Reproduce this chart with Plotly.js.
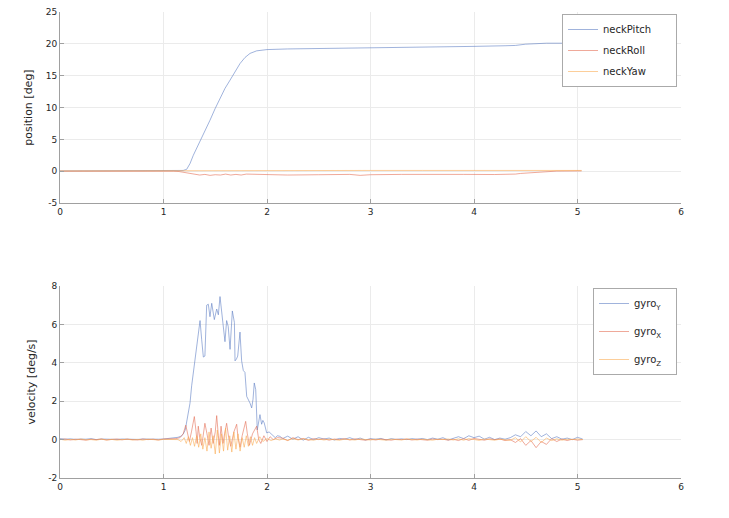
<!DOCTYPE html>
<html>
<head>
<meta charset="utf-8">
<script src="https://cdn.plot.ly/plotly-3.0.1.min.js"></script>
<style>html,body{margin:0;padding:0;background:#fff;}#chart{width:729px;height:518px;}</style>
</head>
<body>
<div id="chart"></div>
<script>
// ---- top panel: position ----
var tPitch = [0,0.2,0.4,0.6,0.8,1.0,1.1,1.15,1.19,1.224,1.256,1.288,1.32,1.353,1.40,1.449,1.498,1.546,1.594,1.643,1.691,1.739,1.787,1.836,1.9,2.0,2.2,2.5,2.8,3.1,3.5,3.8,4.0,4.3,4.4,4.5,4.6,4.7,4.85,5.04];
var neckPitch = [0.05,0.05,0.1,0.05,0.1,0.05,0.05,0.08,0.12,0.3,1.2,2.5,3.55,4.75,6.4,8.0,9.8,11.4,13.0,14.3,15.6,16.9,17.85,18.5,18.9,19.1,19.2,19.25,19.35,19.4,19.45,19.5,19.6,19.7,19.75,19.95,20.05,20.1,20.1,20.15];

var tRoll = [0,0.2,0.4,0.6,0.8,1.0,1.1,1.15,1.2,1.25,1.3,1.35,1.4,1.45,1.5,1.55,1.6,1.65,1.7,1.75,1.8,1.9,2.0,2.2,2.5,2.8,2.9,3.0,3.3,3.6,3.9,4.2,4.35,4.4,4.45,4.5,4.55,4.6,4.65,4.7,4.8,5.04];
var neckRoll = [0.0,0.02,0.0,0.03,0.0,0.02,0.0,-0.05,-0.2,-0.4,-0.55,-0.6,-0.5,-0.65,-0.55,-0.6,-0.45,-0.6,-0.5,-0.6,-0.45,-0.5,-0.5,-0.6,-0.55,-0.5,-0.65,-0.55,-0.5,-0.55,-0.5,-0.52,-0.5,-0.45,-0.35,-0.3,-0.2,-0.15,-0.05,0.0,0.02,0.05];

var tYaw = [0,0.5,1.0,1.5,2.0,2.5,3.0,3.5,4.0,4.5,5.04];
var neckYaw = [0.05,0.08,0.1,0.12,0.12,0.12,0.12,0.12,0.12,0.12,0.12];

// ---- bottom panel: velocity ----
var tQuietA = [0,0.05,0.1,0.15,0.2,0.25,0.3,0.35,0.4,0.45,0.5,0.55,0.6,0.65,0.7,0.75,0.8,0.85,0.9,0.95,1.0,1.05];
var tQuietB = [2.15,2.2,2.25,2.3,2.35,2.4,2.45,2.5,2.55,2.6,2.65,2.7,2.75,2.8,2.85,2.9,2.95,3.0,3.05,3.1,3.15,3.2,3.25,3.3,3.35,3.4,3.45,3.5,3.55,3.6,3.65,3.7,3.75,3.8,3.85,3.9,3.95,4.0,4.05,4.1,4.15,4.2,4.25,4.3,4.35,4.4,4.45,4.5,4.55,4.6,4.65,4.7,4.75,4.8,4.85,4.9,4.95,5.0,5.05];

var gyroY_A = [0.05,0.02,0.04,0.01,0.03,0.02,0.05,0.0,0.03,0.02,0.04,0.01,0.03,0.02,0.04,0.01,0.03,0.02,0.04,0.02,0.03,0.06];
var tGyroY = [1.08,1.11,1.14,1.17,1.19,1.21,1.224,1.24,1.256,1.272,1.288,1.304,1.32,1.336,1.353,1.369,1.385,1.40,1.417,1.433,1.449,1.466,1.491,1.514,1.53,1.546,1.562,1.578,1.594,1.61,1.625,1.643,1.665,1.685,1.691,1.705,1.717,1.739,1.755,1.771,1.787,1.804,1.82,1.836,1.852,1.865,1.877,1.891,1.906,1.92,1.932,1.948,1.96,1.973,1.997,2.02,2.045,2.08,2.1,2.125];
var gyroY_act = [0.06,0.1,0.12,0.18,0.28,0.5,0.9,1.4,1.9,2.8,3.5,4.1,4.8,5.4,6.2,5.2,4.3,4.35,7.0,7.05,6.4,7.1,6.25,6.8,6.5,7.45,6.6,6.1,5.1,6.2,5.9,4.7,6.7,6.1,4.1,4.2,4.35,5.6,4.1,3.6,3.5,2.25,2.1,1.9,1.65,2.1,2.95,2.6,0.5,1.0,1.3,0.8,1.0,0.87,0.35,0.4,0.26,0.1,0.2,0.17];
var gyroY_B = [0.05,0.18,0.02,0.15,-0.03,0.12,0.0,0.1,0.03,0.08,-0.02,0.06,0.02,0.1,0.0,0.08,-0.02,0.05,0.02,0.06,-0.02,0.05,0.01,0.04,0.0,0.05,0.02,0.06,0.0,0.08,0.02,0.1,-0.02,0.05,0.15,0.05,0.2,0.1,0.18,0.02,0.12,0.0,0.08,0.02,0.1,0.25,0.15,0.42,0.2,0.45,0.15,0.3,0.05,0.15,0.02,0.08,0.0,0.12,0.03];

var gyroX_A = [0.0,0.03,-0.02,0.02,0.0,-0.03,0.02,0.0,0.03,-0.02,0.01,0.03,-0.01,0.02,0.0,-0.02,0.03,0.0,0.02,-0.02,0.03,0.04];
var tGyroX = [1.08,1.12,1.16,1.19,1.215,1.235,1.25,1.27,1.298,1.315,1.325,1.336,1.35,1.37,1.40,1.42,1.44,1.46,1.48,1.50,1.514,1.53,1.54,1.556,1.575,1.59,1.61,1.63,1.65,1.68,1.707,1.72,1.74,1.76,1.794,1.81,1.83,1.86,1.90,1.92,1.94,1.97,2.0,2.03,2.06,2.1];
var gyroX_act = [0.03,0.05,0.1,0.3,0.75,0.2,-0.1,0.4,1.2,0.4,-0.2,0.7,0.1,-0.3,0.85,0.3,-0.3,0.6,-0.2,0.4,1.25,0.2,-0.3,0.7,-0.2,0.3,0.85,0.1,-0.35,0.4,0.8,0.1,-0.4,0.2,0.95,0.3,-0.3,0.3,0.7,0.0,-0.2,0.2,-0.1,0.15,0.0,0.1];
var gyroX_B = [0.08,-0.05,0.1,0.0,0.06,-0.04,0.05,0.0,0.04,-0.03,0.03,0.0,0.05,-0.02,0.04,0.0,-0.03,0.02,-0.02,0.03,0.0,-0.03,0.02,0.0,0.03,-0.02,0.02,0.0,-0.03,0.03,0.0,0.02,-0.03,0.02,-0.05,0.05,-0.04,0.06,0.0,-0.03,0.04,0.0,0.03,-0.05,0.0,-0.15,0.05,-0.3,-0.05,-0.42,-0.1,-0.25,0.05,-0.1,0.03,-0.05,0.02,-0.03,0.0];

var gyroZ_A = [0.02,-0.03,0.01,-0.02,0.03,-0.01,0.0,-0.03,0.02,-0.02,0.01,-0.03,0.0,0.02,-0.02,0.01,-0.03,0.02,0.0,-0.02,0.01,0.0];
var tGyroZ = [1.08,1.11,1.14,1.17,1.20,1.22,1.24,1.26,1.28,1.30,1.32,1.34,1.36,1.38,1.40,1.42,1.44,1.46,1.48,1.50,1.52,1.54,1.56,1.58,1.60,1.62,1.64,1.66,1.68,1.70,1.72,1.74,1.76,1.78,1.80,1.82,1.84,1.86,1.88,1.90,1.93,1.96,2.0,2.04,2.08,2.12];
var gyroZ_act = [0.0,0.02,0.0,-0.1,0.1,-0.2,0.15,-0.3,0.1,-0.35,0.2,-0.4,0.3,-0.5,0.1,-0.6,0.4,-0.45,0.2,-0.75,0.5,-0.7,0.3,-0.6,0.6,-0.55,0.2,-0.65,0.4,-0.5,0.3,-0.6,0.1,-0.4,0.2,-0.35,0.15,-0.3,0.1,-0.2,0.15,-0.1,0.05,-0.05,0.04,-0.02];
var gyroZ_B = [0.03,-0.04,0.05,-0.02,0.04,0.0,-0.03,0.03,-0.02,0.02,0.0,-0.03,0.02,0.0,-0.02,0.03,0.0,-0.02,0.02,0.0,-0.03,0.02,0.0,-0.02,0.03,0.0,-0.02,0.02,0.0,-0.03,0.02,0.0,0.03,-0.02,0.04,-0.03,0.05,0.0,-0.04,0.03,0.0,-0.03,0.02,0.0,-0.04,0.1,-0.12,0.15,-0.1,0.12,-0.15,0.08,-0.05,0.04,-0.03,0.02,0.0,0.03,0.0];

var xTicks = [0,1,2,3,4,5,6];
var xTickText = ['0','1','2','3','4','5','6'];
var y1Ticks = [-5,0,5,10,15,20,25];
var y1TickText = ['-5','0','5','10','15','20','25'];
var y2Ticks = [-2,0,2,4,6,8];
var y2TickText = ['-2','0','2','4','6','8'];

var topNames = ['neckPitch', 'neckRoll', 'neckYaw'];
var bottomNames = ['gyro<sub>Y</sub>', 'gyro<sub>X</sub>', 'gyro<sub>Z</sub>'];
var NB = '\u00a0';
var padTop = NB + NB + NB + NB + NB + NB;
var padBottom = NB + NB + NB;

var cBlue = 'rgb(95,128,196)';
var cRed = 'rgb(228,110,85)';
var cOrange = 'rgb(250,172,85)';
var LW = 0.6;

var tGyroYAll = tQuietA.concat(tGyroY, tQuietB);
var tGyroXAll = tQuietA.concat(tGyroX, tQuietB);
var tGyroZAll = tQuietA.concat(tGyroZ, tQuietB);

function tr(x, y, name, color, xa, ya, lg, grp) {
  return {x: x, y: y, name: name, type: 'scatter', mode: 'lines', line: {color: color, width: LW},
          xaxis: xa, yaxis: ya, legend: lg, legendgroup: grp};
}

var traces = [
  tr(tPitch, neckPitch, topNames[0] + padTop, cBlue, 'x', 'y', 'legend', 'a'),
  tr(tRoll, neckRoll, topNames[1], cRed, 'x', 'y', 'legend', 'b'),
  tr(tYaw, neckYaw, topNames[2], cOrange, 'x', 'y', 'legend', 'c'),
  tr(tGyroYAll, gyroY_A.concat(gyroY_act, gyroY_B), bottomNames[0] + padBottom, cBlue, 'x2', 'y2', 'legend2', 'd'),
  tr(tGyroXAll, gyroX_A.concat(gyroX_act, gyroX_B), bottomNames[1], cRed, 'x2', 'y2', 'legend2', 'e'),
  tr(tGyroZAll, gyroZ_A.concat(gyroZ_act, gyroZ_B), bottomNames[2], cOrange, 'x2', 'y2', 'legend2', 'f')
];

var axisCommon = {
  showline: true, linecolor: '#a0a0a0', linewidth: 1,
  ticks: 'inside', ticklen: 4, tickcolor: '#a0a0a0',
  showgrid: true, gridcolor: '#ebebeb', gridwidth: 1,
  zeroline: false, tickmode: 'array',
  tickfont: {family: 'DejaVu Sans', size: 9, color: '#262626'}
};
function ax(extra) { var o = {}; for (var k in axisCommon) o[k] = axisCommon[k]; for (var k2 in extra) o[k2] = extra[k2]; return o; }

var layout = {
  width: 729, height: 518,
  paper_bgcolor: '#ffffff', plot_bgcolor: '#ffffff',
  margin: {l: 60, r: 48, t: 12, b: 40},
  font: {family: 'DejaVu Sans', size: 10, color: '#262626'},
  showlegend: true,
  xaxis: ax({domain: [0, 1], range: [0, 6], anchor: 'y', tickvals: xTicks, ticktext: xTickText}),
  yaxis: ax({domain: [0.590, 1], range: [-5, 25], anchor: 'x', tickvals: y1Ticks, ticktext: y1TickText,
             title: {text: 'position [deg]', font: {family: 'DejaVu Sans', size: 11, color: '#262626'}, standoff: 10}}),
  xaxis2: ax({domain: [0, 1], range: [0, 6], anchor: 'y2', tickvals: xTicks, ticktext: xTickText}),
  yaxis2: ax({domain: [0, 0.412], range: [-2, 8], anchor: 'x2', tickvals: y2Ticks, ticktext: y2TickText,
             title: {text: 'velocity [deg/s]', font: {family: 'DejaVu Sans', size: 11, color: '#262626'}, standoff: 10}}),
  legend: {x: 0.9936, xanchor: 'right', y: 0.9957, yanchor: 'top', bgcolor: '#ffffff', bordercolor: '#aaaaaa', borderwidth: 1,
           font: {family: 'DejaVu Sans', size: 10, color: '#262626'}, tracegroupgap: 2},
  legend2: {x: 0.9936, xanchor: 'right', y: 0.4077, yanchor: 'top', bgcolor: '#ffffff', bordercolor: '#aaaaaa', borderwidth: 1,
           font: {family: 'DejaVu Sans', size: 10, color: '#262626'}, tracegroupgap: 9}
};

Plotly.newPlot('chart', traces, layout, {displayModeBar: false, staticPlot: true});
</script>
</body>
</html>
